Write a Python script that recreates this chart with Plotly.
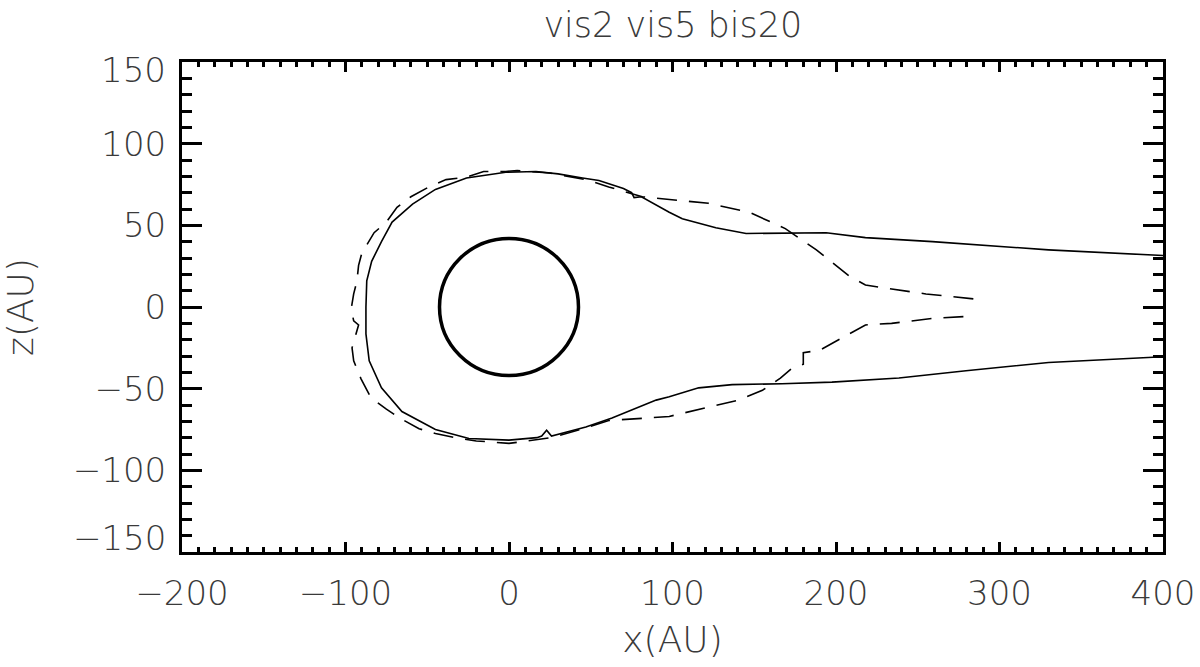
import plotly.graph_objects as go

# ---- data (AU) ----
solid_x = [400, 330, 259, 218, 194, 167, 145, 126.5, 106, 98, 81, 76.5, 75, 70, 55, 45, 30,
           16.5, -2, -26, -45, -59, -71.5, -78, -84, -87, -87.5,
           -87.5, -85.5, -78, -65.5, -45, -24.5, 0, 17, 20, 23, 26, 47, 63, 90, 98, 116,
           136.5, 167, 197.5, 238.5, 279.5, 330, 400]
solid_y = [31.5, 35, 40, 42.5, 45.5, 45.2, 45, 48.5, 54, 58, 67.5, 67, 70, 72.5, 77.5, 79, 81.5,
           83, 82.5, 79, 72, 63, 52, 40, 28, 16, 0,
           -16.5, -33, -49.5, -64, -75, -80.5, -81.5, -80, -79, -75.5, -79, -73.5, -68, -57, -55, -49.5,
           -47.5, -47, -46, -43.5, -39, -34, -30.5]

dash_x = [284, 279.5, 255, 230.5, 218, 208, 188, 169, 147, 122, 98, 81.5, 61, 47, 25, 5, -2,
          -15.5, -26, -38.5, -49, -60, -68.5, -75, -82.5, -90, -92, -93, -95, -96.5,
          -95, -92, -96, -95, -90.5, -84.5, -75, -66, -55, -45, -30.5, -20, 0, 26, 47, 61,
          84, 98, 140.5, 155, 166, 172.5, 180, 180, 190, 202, 218, 234, 259, 284.5]
dash_y = [5, 5.5, 8, 11.5, 13.5, 19, 35, 48, 58, 63.5, 66, 67.5, 73.5, 78, 82, 83.5, 83,
          83, 79.5, 78, 73.5, 67.5, 61, 52, 45.5, 33, 25.5, 16, 8, -1,
          -8.5, -11, -25, -33, -44, -55.5, -62.5, -68.5, -74.5, -77.5, -80.5, -82, -83.5, -80, -74, -69.5,
          -68, -67, -57, -51, -43.5, -38, -35, -28, -26.5, -20, -11, -10, -7, -5.5]

circle_radius_x = 42.5
circle_radius_y = 42

x_range = [-200, 400]
y_range = [-150, 150]
x_tickvals = [-200, -100, 0, 100, 200, 300, 400]
y_tickvals = [-150, -100, -50, 0, 50, 100, 150]
y_ticktext = ["", "\u2212100", "\u221250", "0", "50", "100", ""]

title_text = "vis2 vis5 bis20"
x_title = "x(AU)"
y_title = "z(AU)"

FONT = "DejaVu Sans"
TXT = "#3a3a3a"

fig = go.Figure()
fig.add_trace(go.Scatter(x=solid_x, y=solid_y, mode="lines",
                         line=dict(color="black", width=1.6), showlegend=False))
fig.add_trace(go.Scatter(x=dash_x, y=dash_y, mode="lines",
                         line=dict(color="black", width=1.6, dash="20px,12px"), showlegend=False))

fig.add_shape(type="circle", xref="x", yref="y",
              x0=-circle_radius_x, x1=circle_radius_x, y0=-circle_radius_y, y1=circle_radius_y,
              line=dict(color="black", width=3.5))

axis_common = dict(showgrid=False, zeroline=False, showline=True, linecolor="black",
                   linewidth=3, mirror="ticks", ticks="inside", tickcolor="black",
                   tickwidth=3, automargin=False, ticklabeloverflow="allow")

fig.update_xaxes(range=x_range, tickvals=x_tickvals, ticklen=10,
                 minor=dict(dtick=10, ticks="inside", ticklen=5, tickwidth=3, tickcolor="black"),
                 tickfont=dict(family=FONT, size=34, color=TXT, weight=300), ticklabelstandoff=9,
                 title=dict(text=x_title, font=dict(family=FONT, size=36, color=TXT, weight=300), standoff=16),
                 **axis_common)
fig.update_yaxes(range=y_range, tickvals=y_tickvals, ticktext=y_ticktext, ticklen=20,
                 minor=dict(dtick=10, ticks="inside", ticklen=10, tickwidth=3, tickcolor="black"),
                 tickfont=dict(family=FONT, size=34, color=TXT, weight=300), ticklabelstandoff=6,
                 title=dict(text=y_title, font=dict(family=FONT, size=36, color=TXT, weight=300), standoff=33),
                 **axis_common)

for v, txt, anchor, shift in [(150, "150", "top", 14), (-150, "\u2212150", "bottom", -8)]:
    fig.add_annotation(x=0, xref="paper", y=v, yref="y", text=txt, showarrow=False,
                       xanchor="right", yanchor=anchor, xshift=-14, yshift=shift,
                       font=dict(family=FONT, size=34, color=TXT, weight=300))

fig.update_layout(
    width=1200, height=667,
    margin=dict(l=182, r=37, t=62, b=115, autoexpand=False),
    paper_bgcolor="white", plot_bgcolor="white",
    title=dict(text=title_text, x=0.5607, xanchor="center", y=0.9625, yanchor="middle",
               font=dict(family=FONT, size=35, color=TXT, weight=300)),
)

# remove the default 8px page margin so the figure fills the window exactly
fig.write_html("out.html", config={"displayModeBar": False},
               post_script="document.body.style.margin='0';document.body.style.overflow='hidden';")
